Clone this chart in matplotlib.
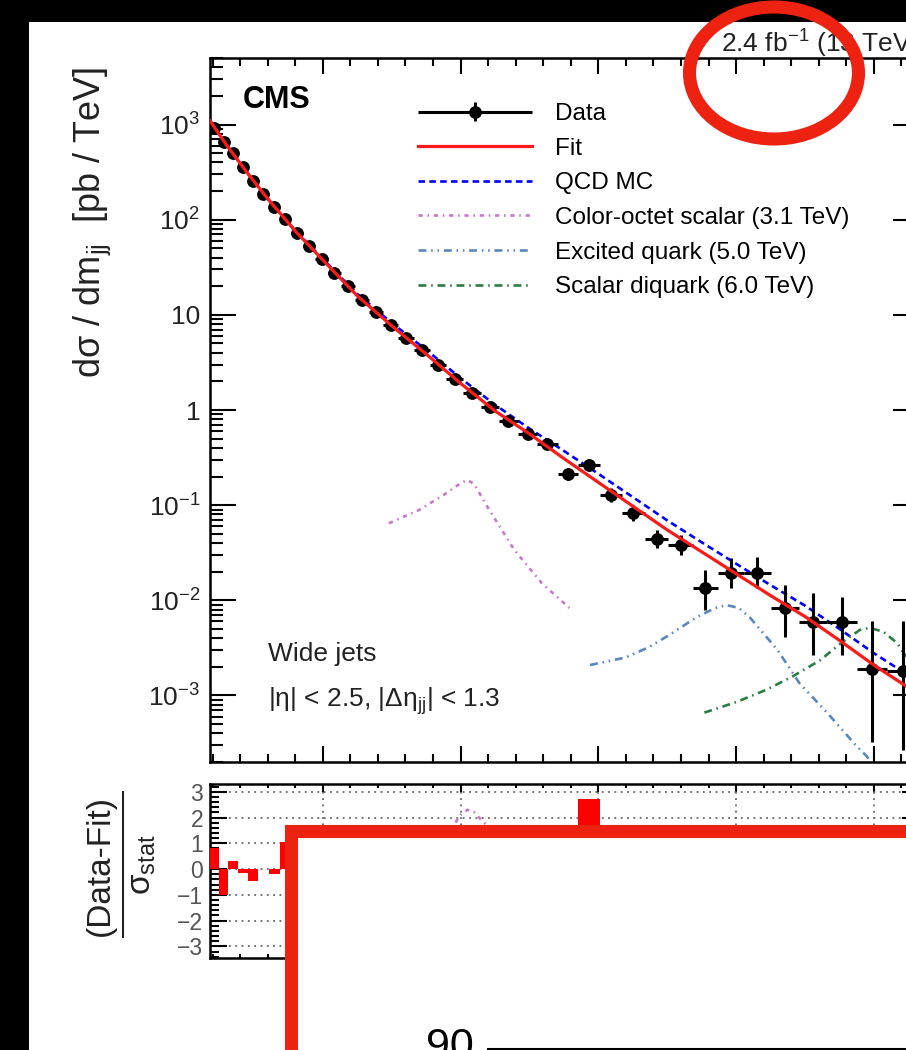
import numpy as np
import matplotlib
matplotlib.use("Agg")
import matplotlib.pyplot as plt
from matplotlib.patches import Rectangle, Ellipse
from matplotlib.lines import Line2D
from matplotlib.ticker import FixedLocator, FixedFormatter, MultipleLocator, LogLocator, NullFormatter
from matplotlib.legend_handler import HandlerErrorbar

plt.rcParams["font.family"] = ["Liberation Sans", "DejaVu Sans"]
plt.rcParams["mathtext.fontset"] = "custom"
plt.rcParams["mathtext.rm"] = "Liberation Sans"
plt.rcParams["mathtext.it"] = "Liberation Sans:italic"
plt.rcParams["mathtext.bf"] = "Liberation Sans:bold"

# dijet mass bins [TeV]
bin_edges = np.array([1.181, 1.246, 1.313, 1.383, 1.455, 1.530, 1.607, 1.687, 1.770, 1.856,
                      1.945, 2.037, 2.132, 2.231, 2.332, 2.438, 2.546, 2.659, 2.775, 2.895,
                      3.019, 3.147, 3.279, 3.416, 3.558, 3.704, 3.854, 4.010, 4.171, 4.337,
                      4.509, 4.686, 4.869, 5.058, 5.253, 5.455, 5.663, 5.877, 6.099, 6.328])

# data, dsigma/dm [pb/TeV]
data_xsec = np.array([930, 662, 507, 361, 258, 188, 137, 102, 73, 53,
                      38.8, 27.7, 20.2, 14.4, 10.8, 7.85, 5.72, 4.28, 2.98, 2.12,
                      1.51, 1.08, 0.766, 0.558, 0.439, 0.212, 0.264, 0.127, 0.0824, 0.0439,
                      0.0379, 0.0134, 0.0192, 0.0192, 0.00824, 0.00586, 0.00586, 0.00192, 0.00183])
# relative stat. uncertainty (up / down)
rel_up = np.array([0.01] * 12 + [0.02] * 6 + [0.04] * 4 + [0.05, 0.07,
                  0.10, 0.16, 0.155, 0.184, 0.213, 0.243, 0.274, 0.545, 0.438, 0.472,
                  0.746, 1.02, 0.832, 2.19, 2.35])
rel_dn = np.array([0.01] * 12 + [0.02] * 6 + [0.04] * 4 + [0.05, 0.07,
                  0.09, 0.135, 0.135, 0.156, 0.176, 0.196, 0.215, 0.413, 0.305, 0.305,
                  0.504, 0.55, 0.55, 0.833, 0.855])

# (data - fit) / sigma_stat
pulls = np.array([0.8, -1.0, 0.3, -0.15, -0.45, 0.0, -0.2, 1.05, 0.4, -0.6,
                  0.2, 0.7, -0.3, -0.8, 0.5, 0.1, -0.4, 0.6, 0.3, -0.5,
                  0.2, -0.9, 0.4, 1.0, 0.6, -0.7, 2.72, -0.3, 0.5, -1.1,
                  0.4, -1.2, 0.3, 0.8, -0.2, 0.1, 0.9, -0.1, 0.3])

# fit and QCD MC curves (log10 of pb/TeV)
curve_mass = [1.181, 1.30, 1.45, 1.60, 1.80, 2.00, 2.25, 2.50, 2.75, 3.00, 3.25, 3.50,
              3.75, 4.00, 4.25, 4.50, 4.75, 5.00, 5.25, 5.50, 5.75, 6.00, 6.328]
fit_log10 = [3.04, 2.786, 2.495, 2.22, 1.88, 1.576, 1.20, 0.885, 0.588, 0.28, -0.01, -0.25,
             -0.51, -0.76, -1.01, -1.26, -1.49, -1.72, -1.95, -2.17, -2.42, -2.68, -2.99]
qcd_log10 = [3.04, 2.786, 2.495, 2.22, 1.885, 1.586, 1.22, 0.915, 0.633, 0.335, 0.055, -0.195,
             -0.43, -0.67, -0.915, -1.16, -1.39, -1.615, -1.84, -2.055, -2.30, -2.555, -2.86]

# signal shapes (log10 of pb/TeV)
octet_mass = [2.48, 2.70, 2.88, 3.00, 3.05, 3.10, 3.20, 3.39, 3.59, 3.79]
octet_log10 = [-1.19, -1.05, -0.89, -0.77, -0.735, -0.78, -1.03, -1.47, -1.82, -2.08]
qstar_mass = [3.94, 4.20, 4.37, 4.52, 4.71, 4.85, 4.93, 5.02, 5.10, 5.30, 5.46, 5.66, 5.88, 5.95, 6.05]
qstar_log10 = [-2.68, -2.60, -2.49, -2.36, -2.18, -2.08, -2.05, -2.08, -2.18, -2.52, -2.87,
               -3.18, -3.54, -3.64, -3.9]
diquark_mass = [4.77, 5.00, 5.22, 5.41, 5.61, 5.77, 5.90, 5.97, 6.07, 6.17, 6.328]
diquark_log10 = [-3.18, -3.07, -2.94, -2.80, -2.63, -2.44, -2.31, -2.29, -2.33, -2.45, -2.8]

# colour-octet signal in the pull panel
octet_pull_mass = [2.5, 2.8, 2.95, 3.0, 3.05, 3.1, 3.16, 3.3, 3.5, 3.8]
octet_pull = [0.3, 0.9, 1.7, 2.1, 2.3, 2.2, 1.85, 1.2, 0.6, 0.2]

W, H = 906, 1050


def fx(px):
    return px / W


def fy(py):
    return 1 - py / H


def box(l, t, r, b):
    return [fx(l), fy(b), (r - l) / W, (b - t) / H]


fig = plt.figure(figsize=(W / 100, H / 100), dpi=100, facecolor="black")
fig.add_artist(Rectangle((fx(29), 0), 1, fy(22), transform=fig.transFigure,
                         facecolor="white", edgecolor="none", zorder=-5))

ax = fig.add_axes(box(210, 58, 919, 762))
ax2 = fig.add_axes(box(210, 784, 919, 958))

centers = 0.5 * (bin_edges[:-1] + bin_edges[1:])
xerr = [centers - bin_edges[:-1], bin_edges[1:] - centers]
yerr = [data_xsec * rel_dn, data_xsec * rel_up]

data_h = ax.errorbar(centers, data_xsec, xerr=xerr, yerr=yerr, fmt="o", color="black",
                     ms=8.2, elinewidth=2.2, capsize=0, zorder=3)
fit_h, = ax.plot(curve_mass, 10 ** np.array(fit_log10), color="#ff1a1a", lw=2.3, zorder=4)
qcd_h, = ax.plot(curve_mass, 10 ** np.array(qcd_log10), color="#0000ff", lw=1.9,
                 dashes=(2.5, 1.6), zorder=2)
oct_h, = ax.plot(octet_mass, 10 ** np.array(octet_log10), color="#c47acb", lw=1.9,
                 dashes=(1.6, 1.8, 0.6, 1.8), zorder=2)
qs_h, = ax.plot(qstar_mass, 10 ** np.array(qstar_log10), color="#5a87bd", lw=1.9,
                dashes=(3, 1.8, 0.6, 1.8, 0.6, 1.8), zorder=2)
dq_h, = ax.plot(diquark_mass, 10 ** np.array(diquark_log10), color="#2b7d45", lw=1.9,
                dashes=(3, 1.8, 0.6, 1.8), zorder=2)

ax.set_yscale("log")
ax.set_xlim(bin_edges[0], bin_edges[-1])
ax.set_ylim(2e-4, 5e3)
ax.yaxis.set_major_locator(FixedLocator([1e-3, 1e-2, 1e-1, 1, 10, 1e2, 1e3]))
ax.yaxis.set_major_formatter(FixedFormatter([r"$\mathregular{10^{-3}}$", r"$\mathregular{10^{-2}}$",
                                             r"$\mathregular{10^{-1}}$", "1", "10",
                                             r"$\mathregular{10^{2}}$", r"$\mathregular{10^{3}}$"]))
ax.yaxis.set_minor_locator(LogLocator(base=10, subs=range(2, 10), numticks=20))
ax.yaxis.set_minor_formatter(NullFormatter())
ax.xaxis.set_major_locator(MultipleLocator(1))
ax.xaxis.set_minor_locator(MultipleLocator(0.2))
ax.tick_params(axis="y", which="major", direction="in", length=18.7, width=1.5,
               left=True, right=True, labelsize=19, pad=7, labelcolor="#222222")
ax.tick_params(axis="y", which="minor", direction="in", length=9.4, width=1.5,
               left=True, right=True)
ax.tick_params(axis="x", which="major", direction="in", length=11.5, width=1.5,
               top=True, bottom=True, labelbottom=False)
ax.tick_params(axis="x", which="minor", direction="in", length=5.8, width=1.5,
               top=True, bottom=True)
for s in ax.spines.values():
    s.set_linewidth(1.8)

leg = ax.legend([data_h, fit_h, qcd_h, oct_h, qs_h, dq_h],
                ["Data", "Fit", "QCD MC", "Color-octet scalar (3.1 TeV)",
                 "Excited quark (5.0 TeV)", "Scalar diquark (6.0 TeV)"],
                loc="upper left", bbox_to_anchor=(fx(418), fy(103)), bbox_transform=fig.transFigure,
                frameon=False, fontsize=17.5, handlelength=4.7, handletextpad=0.95,
                labelspacing=0.52, borderpad=0, borderaxespad=0,
                handler_map={data_h: HandlerErrorbar(xerr_size=2.35, yerr_size=0.38)})

# pull panel
ax2.bar(bin_edges[:-1], pulls, width=np.diff(bin_edges), align="edge", color="#ff0000",
        lw=0, zorder=3)
ax2.plot(octet_pull_mass, octet_pull, color="#c47acb", lw=1.9, dashes=(1.6, 1.8, 0.6, 1.8),
         zorder=3)
ax2.set_xlim(bin_edges[0], bin_edges[-1])
ax2.set_ylim(-3.45, 3.3)
ax2.yaxis.set_major_locator(MultipleLocator(1))
ax2.yaxis.set_minor_locator(MultipleLocator(0.2))
ax2.xaxis.set_major_locator(MultipleLocator(1))
ax2.xaxis.set_minor_locator(MultipleLocator(0.2))
ax2.grid(True, which="major", ls=(0, (1, 2.5)), color="#666666", lw=1.3, zorder=1)
ax2.tick_params(axis="y", which="major", direction="in", length=12, width=1.5,
                left=True, right=True, labelsize=16.5, pad=5, labelcolor="#555555")
ax2.tick_params(axis="y", which="minor", direction="in", length=6.5, width=1.5,
                left=True, right=True)
ax2.tick_params(axis="x", which="major", direction="in", length=6, width=1.5,
                top=True, bottom=True, labelsize=16)
ax2.tick_params(axis="x", which="minor", direction="in", length=3.2, width=1.5,
                top=True, bottom=True)
for s in ax2.spines.values():
    s.set_linewidth(1.8)

# labels
fig.text(fx(92), fy(222), "dσ / dm$_{\\mathregular{jj}}$  [pb / TeV]", rotation=90,
         ha="center", va="center", fontsize=26, color="#222222")
fig.text(fx(100), fy(865), "(Data-Fit)", rotation=90, ha="center", va="center",
         fontsize=24, color="#222222")
fig.add_artist(Line2D([fx(122.5), fx(122.5)], [fy(792), fy(937)], color="#222222",
                      lw=1.5, transform=fig.transFigure))
fig.text(fx(143), fy(865), "σ$_{\\mathregular{stat}}$", rotation=90, ha="center",
         va="center", fontsize=24, color="#222222")
fig.text(fx(243), fy(108), "CMS", fontsize=22, weight="bold", va="baseline")
fig.text(fx(919), fy(53), "2.4 fb$^{\\mathregular{-1}}$ (13 TeV)", ha="right",
         va="baseline", fontsize=19, color="#222222")
fig.text(fx(268), fy(661), "Wide jets", fontsize=19, va="baseline", color="#222222")
fig.text(fx(268), fy(707), "|η| < 2.5, |Δη$_{\\mathregular{jj}}$| < 1.3", fontsize=19,
         va="baseline", color="#222222")

# annotation layer on top of the screenshot
ov = fig.add_axes([0, 0, 1, 1], zorder=20)
ov.set_xlim(0, W)
ov.set_ylim(H, 0)
ov.axis("off")
ov.patch.set_alpha(0)
ov.add_patch(Ellipse((774, 73), 169, 132, fill=False, edgecolor="#ee2211", lw=9.4))
ov.add_patch(Rectangle((290.5, 830.5), 800, 400, facecolor="white", edgecolor="#ee2211",
                       lw=9.4))
ov.text(426, 1058, "90", fontsize=31, va="baseline", ha="left", color="black")
ov.plot([488, 920], [1048.5, 1048.5], color="black", lw=2.2)

fig.savefig("out.png", dpi=100, facecolor=fig.get_facecolor())
